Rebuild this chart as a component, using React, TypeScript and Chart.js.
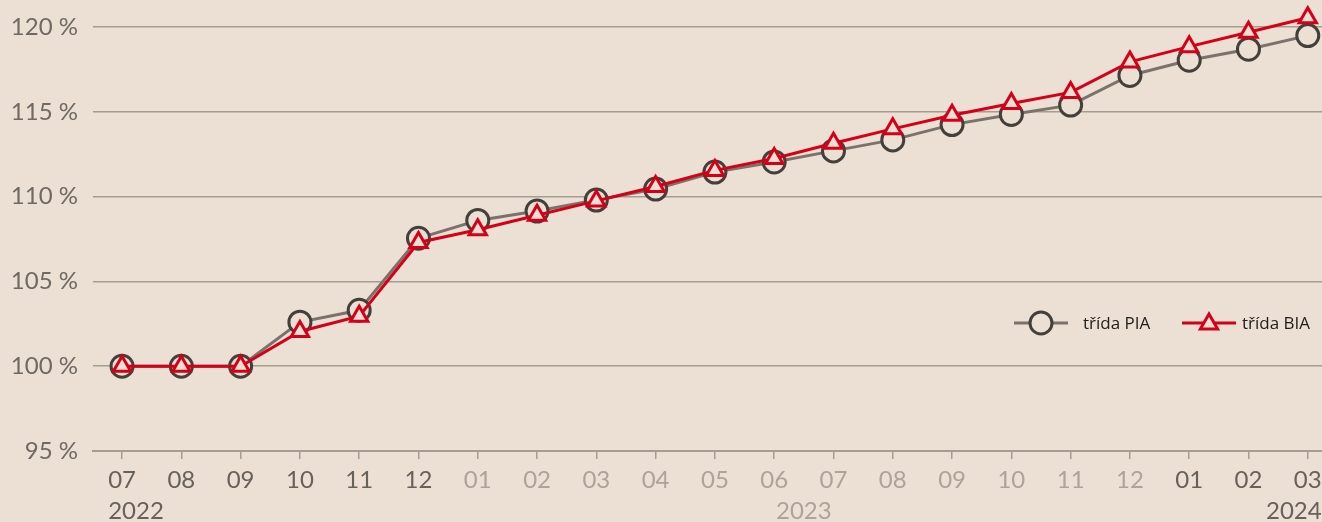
import React, { useEffect, useRef } from 'react';
import { Chart, registerables } from 'chart.js';

Chart.register(...registerables);

// ---- data ----
const months = ['07', '08', '09', '10', '11', '12', '01', '02', '03', '04', '05', '06', '07', '08', '09', '10', '11', '12', '01', '02', '03'];
const yearLabels = ['2022', '2023', '2024'];
const yearFirstIndex = [0, 6, 18];
const yearLastIndex = [5, 17, 20];
const piaValues = [100, 100, 100, 102.6, 103.3, 107.55, 108.6, 109.15, 109.8, 110.45, 111.45, 112.05, 112.7, 113.35, 114.25, 114.85, 115.4, 117.15, 118.05, 118.7, 119.5];
const biaValues = [100, 100, 100, 102.05, 102.95, 107.3, 108.05, 108.9, 109.75, 110.6, 111.55, 112.25, 113.15, 114.0, 114.8, 115.5, 116.15, 117.95, 118.85, 119.7, 120.55];
const seriesNames = ['třída PIA', 'třída BIA'];
const yTickValues = [95, 100, 105, 110, 115, 120];

// ---- styles ----
const BG = '#ebe0d3';
const GRID = '#a69d92';
const DARK_LABEL = '#67615b';
const LIGHT_LABEL = '#aca399';
const PIA_LINE = '#7b736b';
const PIA_MARK = '#43403c';
const BIA_RED = '#d50017';
const AXIS_FONT = 'Lato';
const LEGEND_FONT = '"Open Sans"';
const CIRCLE_R = 11;
const TRI_R = 10;

const monthColor = (i: number) => (i >= yearFirstIndex[1] && i <= yearLastIndex[1] ? LIGHT_LABEL : DARK_LABEL);

const noPad = () => ({ left: 0, top: 0, right: 0, bottom: 0 });
const zeroPadding = (scale: any) => {
  scale.paddingTop = 0;
  scale.paddingBottom = 0;
  scale.paddingLeft = 0;
  scale.paddingRight = 0;
  if (scale._margins) {
    scale._margins.left = 0;
    scale._margins.right = 0;
    scale._margins.top = 0;
    scale._margins.bottom = 0;
  }
  scale.getPadding = noPad;
};

const yearPlugin = {
  id: 'yearLabels',
  afterDraw(chart: any) {
    const { ctx, scales } = chart;
    const x = scales.x;
    ctx.save();
    ctx.font = `24px ${AXIS_FONT}`;
    ctx.textBaseline = 'middle';
    yearLabels.forEach((label, k) => {
      const first = x.getPixelForValue(yearFirstIndex[k]);
      const last = x.getPixelForValue(yearLastIndex[k]);
      let px = (first + last) / 2;
      let align: CanvasTextAlign = 'center';
      if (k === 0) {
        align = 'left';
        px = first - ctx.measureText(months[yearFirstIndex[k]]).width / 2;
      } else if (k === yearLabels.length - 1) {
        align = 'right';
        px = last + ctx.measureText(months[yearLastIndex[k]]).width / 2;
      }
      ctx.textAlign = align;
      ctx.fillStyle = monthColor(yearFirstIndex[k]);
      ctx.fillText(label, px, 511);
    });
    ctx.restore();
  },
};

function drawCircle(ctx: CanvasRenderingContext2D, cx: number, cy: number, r: number) {
  ctx.beginPath();
  ctx.arc(cx, cy, r, 0, Math.PI * 2);
  ctx.fillStyle = BG;
  ctx.fill();
  ctx.lineWidth = 3;
  ctx.strokeStyle = PIA_MARK;
  ctx.stroke();
}

function drawTriangle(ctx: CanvasRenderingContext2D, cx: number, cy: number, r: number) {
  ctx.beginPath();
  let rad = 0;
  ctx.moveTo(cx + Math.sin(rad) * r, cy - Math.cos(rad) * r);
  rad += (2 * Math.PI) / 3;
  ctx.lineTo(cx + Math.sin(rad) * r, cy - Math.cos(rad) * r);
  rad += (2 * Math.PI) / 3;
  ctx.lineTo(cx + Math.sin(rad) * r, cy - Math.cos(rad) * r);
  ctx.closePath();
  ctx.fillStyle = BG;
  ctx.fill();
  ctx.lineWidth = 3;
  ctx.strokeStyle = BIA_RED;
  ctx.stroke();
}

const legendPlugin = {
  id: 'insideLegend',
  afterDraw(chart: any) {
    const { ctx, chartArea } = chart;
    const cy = chartArea.bottom - 128;
    const base = chartArea.right - 308;
    ctx.save();
    ctx.lineWidth = 3;
    // PIA
    ctx.beginPath();
    ctx.strokeStyle = PIA_LINE;
    ctx.moveTo(base, cy);
    ctx.lineTo(base + 54, cy);
    ctx.stroke();
    drawCircle(ctx, base + 27, cy, CIRCLE_R);
    // BIA
    ctx.beginPath();
    ctx.lineWidth = 3;
    ctx.strokeStyle = BIA_RED;
    ctx.moveTo(base + 168, cy);
    ctx.lineTo(base + 222, cy);
    ctx.stroke();
    drawTriangle(ctx, base + 195, cy + 1, TRI_R);
    ctx.font = `17px ${LEGEND_FONT}`;
    ctx.fillStyle = '#1d1d1b';
    ctx.textAlign = 'left';
    ctx.textBaseline = 'middle';
    ctx.fillText(seriesNames[0], base + 69, cy + 1);
    ctx.fillText(seriesNames[1], base + 228, cy + 1);
    ctx.restore();
  },
};

export default function App() {
  const canvasRef = useRef<HTMLCanvasElement | null>(null);

  useEffect(() => {
    if (!canvasRef.current) return;
    const chart = new Chart(canvasRef.current, {
      type: 'line',
      data: {
        datasets: [
          {
            label: seriesNames[0],
            data: piaValues.map((v, i) => ({ x: i, y: v })),
            borderColor: PIA_LINE,
            borderWidth: 3,
            tension: 0,
            pointStyle: 'circle',
            pointRadius: CIRCLE_R,
            pointBorderWidth: 3,
            pointBorderColor: PIA_MARK,
            pointBackgroundColor: BG,
            order: 1,
          },
          {
            label: seriesNames[1],
            data: biaValues.map((v, i) => ({ x: i, y: v })),
            borderColor: BIA_RED,
            borderWidth: 3,
            tension: 0,
            pointStyle: 'triangle',
            pointRadius: TRI_R,
            pointBorderWidth: 3,
            pointBorderColor: BIA_RED,
            pointBackgroundColor: BG,
            order: 0,
          },
        ],
      },
      options: {
        animation: false,
        responsive: true,
        maintainAspectRatio: false,
        events: [],
        clip: false,
        layout: { padding: 0, autoPadding: false },
        plugins: {
          legend: { display: false },
          tooltip: { enabled: false },
        },
        scales: {
          x: {
            type: 'linear',
            min: -0.49,
            max: 20.24,
            afterBuildTicks: (scale: any) => {
              scale.ticks = months.map((_, i) => ({ value: i }));
            },
            afterFit: (scale: any) => {
              scale.height = 71;
              zeroPadding(scale);
            },
            grid: {
              drawOnChartArea: false,
              drawTicks: true,
              tickLength: 8,
              color: GRID,
              lineWidth: 1.5,
            },
            border: { display: true, color: GRID, width: 2 },
            ticks: {
              autoSkip: false,
              maxRotation: 0,
              minRotation: 0,
              padding: 7,
              font: { family: AXIS_FONT, size: 24 },
              color: (c: any) => monthColor(c.index),
              callback: (v: any) => months[Math.round(Number(v))] ?? '',
            },
          },
          y: {
            min: 95,
            max: 121.6,
            afterBuildTicks: (scale: any) => {
              scale.ticks = yTickValues.map((v) => ({ value: v }));
            },
            afterFit: (scale: any) => {
              scale.width = 93;
              zeroPadding(scale);
            },
            grid: {
              drawTicks: false,
              color: GRID,
              lineWidth: 1.5,
            },
            border: { display: false },
            ticks: {
              padding: 15,
              font: { family: AXIS_FONT, size: 24 },
              color: '#6e6963',
              callback: (v: any) => `${v} %`,
            },
          },
        },
      },
      plugins: [yearPlugin, legendPlugin],
    } as any);
    return () => chart.destroy();
  }, []);

  return (
    <div style={{ position: 'fixed', left: 0, top: 0, width: 1322, height: 522, background: BG }}>
      <canvas ref={canvasRef} />
    </div>
  );
}
